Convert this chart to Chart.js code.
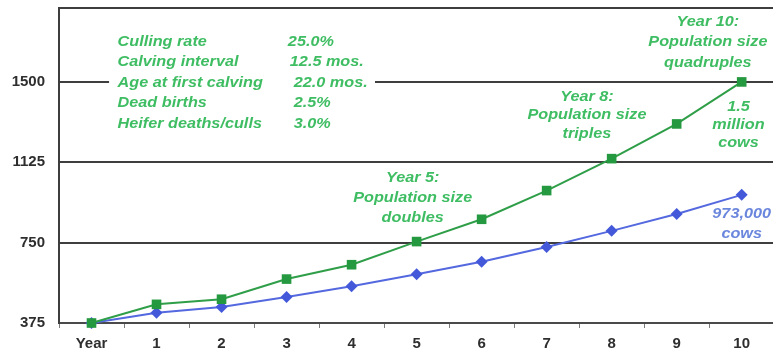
<!DOCTYPE html>
<html>
<head>
<meta charset="utf-8">
<script src="https://cdn.jsdelivr.net/npm/chart.js@4/dist/chart.umd.min.js"></script>
<style>
  html, body { margin: 0; padding: 0; background: #ffffff; overflow: hidden; }
  canvas { display: block; }
</style>
</head>
<body>
<canvas id="herd" width="781" height="354" style="width:781px;height:354px"></canvas>
<script>
// Herd size projection (thousands of cows)
const categories = ['Year', '1', '2', '3', '4', '5', '6', '7', '8', '9', '10'];
const improvedHerd = [375, 462, 486, 580, 647, 755, 859, 993, 1142, 1304, 1500];
const baselineHerd = [375, 423, 450, 496, 546, 602, 661, 730, 805, 884, 973];
const yTickValues = [375, 750, 1125, 1500];
const yMin = 375;
const yMax = 1845;

// Management assumptions listed in the panel
const paramNames = ['Culling rate', 'Calving interval', 'Age at first calving', 'Dead births', 'Heifer deaths/culls'];
const paramValues = ['25.0%', '12.5 mos.', '22.0 mos.', '2.5%', '3.0%'];

// Callout text
const noteYear5 = ['Year 5:', 'Population size', 'doubles'];
const noteYear8 = ['Year 8:', 'Population size', 'triples'];
const noteYear10 = ['Year 10:', 'Population size', 'quadruples'];
const noteImproved = ['1.5', 'million', 'cows'];
const noteBaseline = ['973,000', 'cows'];

const GREEN_LINE = '#2f9e48';
const GREEN_MARK = '#25993f';
const GREEN_TEXT = '#3fbd63';
const BLUE_LINE = '#5468df';
const BLUE_MARK = '#4459da';
const BLUE_TEXT = '#6b87dd';
const FRAME = '#3e3e3e';
const STRETCH = 1.12;
const NOTE_FONT = 'italic bold 14.5px "Liberation Sans", Arial, sans-serif';

function stretchedText(ctx, text, cx, cy, align) {
  ctx.save();
  ctx.translate(cx, cy);
  ctx.scale(STRETCH, 1);
  ctx.textAlign = align;
  ctx.fillText(text, 0, 0);
  ctx.restore();
}

function drawBlock(ctx, x, y, lines, idx, value, lineHeight, color) {
  const cx = x.getPixelForValue(idx);
  const cy = y.getPixelForValue(value);
  ctx.fillStyle = color;
  lines.forEach((t, i) => stretchedText(ctx, t, cx, cy + i * lineHeight, 'center'));
}

const notesPlugin = {
  id: 'notes',
  beforeDatasetsDraw(chart) {
    const { ctx, chartArea, scales: { x, y } } = chart;
    ctx.save();

    // top frame edge
    ctx.strokeStyle = FRAME;
    ctx.lineWidth = 2;
    ctx.beginPath();
    ctx.moveTo(chartArea.left - 1, chartArea.top);
    ctx.lineTo(chartArea.right, chartArea.top);
    ctx.stroke();

    // white panel behind the assumption list
    const bx0 = x.getPixelForValue(0.27), bx1 = x.getPixelForValue(4.36);
    const by0 = y.getPixelForValue(1752), by1 = y.getPixelForValue(1248);
    ctx.fillStyle = '#ffffff';
    ctx.fillRect(bx0, by0, bx1 - bx0, by1 - by0);

    ctx.font = NOTE_FONT;
    ctx.textBaseline = 'middle';

    // assumption list
    const firstRow = y.getPixelForValue(1687);
    const valueCols = [3.02, 3.05, 3.11, 3.11, 3.11];
    ctx.fillStyle = GREEN_TEXT;
    paramNames.forEach((name, i) => {
      const ry = firstRow + i * 20.5;
      stretchedText(ctx, name, x.getPixelForValue(0.40), ry, 'left');
      stretchedText(ctx, paramValues[i], x.getPixelForValue(valueCols[i]), ry, 'left');
    });

    // callouts
    drawBlock(ctx, x, y, noteYear5, 4.94, 1052, 20, GREEN_TEXT);
    drawBlock(ctx, x, y, noteYear8, 7.62, 1430, 18.5, GREEN_TEXT);
    drawBlock(ctx, x, y, noteYear10, 9.48, 1780, 20.5, GREEN_TEXT);
    drawBlock(ctx, x, y, noteImproved, 9.95, 1383, 18, GREEN_TEXT);
    drawBlock(ctx, x, y, noteBaseline, 10.0, 884, 20, BLUE_TEXT);

    ctx.restore();
  }
};

new Chart(document.getElementById('herd'), {
  type: 'line',
  data: {
    labels: categories,
    datasets: [
      {
        label: 'Improved management',
        data: improvedHerd,
        borderColor: GREEN_LINE,
        backgroundColor: GREEN_MARK,
        borderWidth: 2,
        pointStyle: 'rect',
        pointRadius: 6.8,
        pointBorderWidth: 0,
        pointBackgroundColor: GREEN_MARK,
        tension: 0,
        clip: false
      },
      {
        label: 'Current management',
        data: baselineHerd,
        borderColor: BLUE_LINE,
        backgroundColor: BLUE_MARK,
        borderWidth: 2,
        pointStyle: 'rectRot',
        pointRadius: 6,
        pointBorderWidth: 0,
        pointBackgroundColor: BLUE_MARK,
        tension: 0,
        clip: false
      }
    ]
  },
  options: {
    responsive: false,
    animation: false,
    devicePixelRatio: 1,
    layout: { padding: { top: 8, left: 0, right: 0, bottom: 0 } },
    plugins: {
      legend: { display: false },
      tooltip: { enabled: false }
    },
    scales: {
      x: {
        type: 'category',
        offset: true,
        grid: {
          display: true,
          drawOnChartArea: false,
          offset: true,
          tickLength: 5,
          color: '#7a7a7a',
          lineWidth: 1
        },
        border: { display: true, color: '#4a4a4a', width: 2 },
        ticks: {
          padding: 7,
          color: '#2e2e2e',
          font: { family: '"Liberation Sans", Arial, sans-serif', size: 15, weight: 'bold' },
          maxRotation: 0,
          autoSkip: false
        },
        afterFit(scale) {
          scale.height = 31;
          scale.paddingLeft = 0;
          scale.paddingRight = 0;
        }
      },
      y: {
        min: yMin,
        max: yMax,
        afterBuildTicks(scale) {
          scale.ticks = yTickValues.map(v => ({ value: v }));
        },
        grid: {
          color: FRAME,
          lineWidth: 2,
          drawTicks: false
        },
        border: { display: true, color: FRAME, width: 2 },
        ticks: {
          padding: 14,
          color: '#2e2e2e',
          font: { family: '"Liberation Sans", Arial, sans-serif', size: 15, weight: 'bold' },
          callback: (value) => String(value)
        },
        afterFit(scale) {
          scale.width = 59;
          scale.paddingTop = 0;
        }
      }
    }
  },
  plugins: [notesPlugin]
});
</script>
</body>
</html>
